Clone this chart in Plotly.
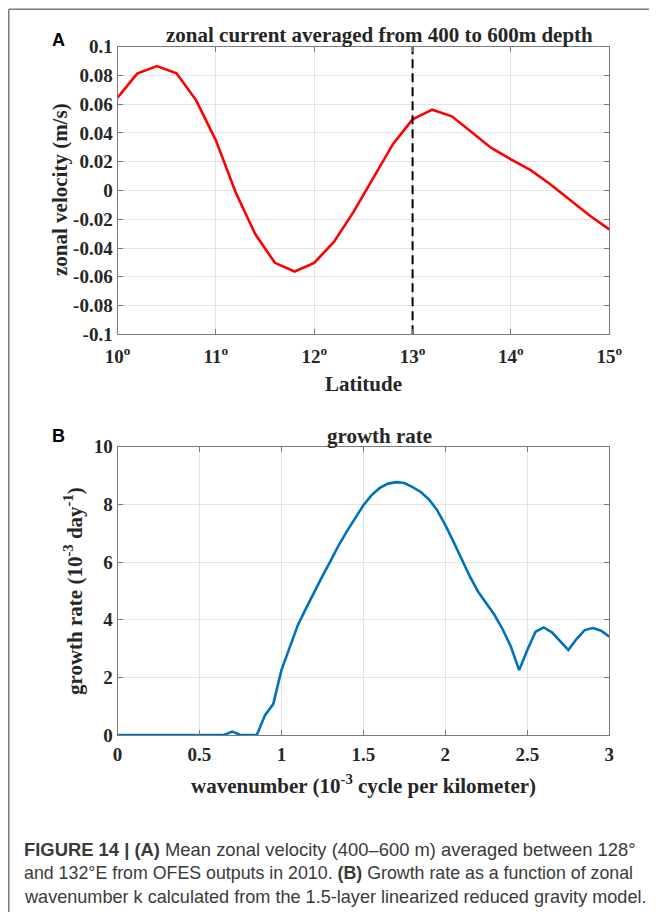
import plotly.graph_objects as go

# ---------------- data ----------------
lat = [10.0, 10.2, 10.4, 10.6, 10.8, 11.0, 11.2, 11.4, 11.6, 11.8, 12.0,
       12.2, 12.4, 12.6, 12.8, 13.0, 13.2, 13.4, 13.6, 13.8, 14.0,
       14.2, 14.4, 14.6, 14.8, 15.0]
zonal_u = [0.0646, 0.0813, 0.0865, 0.0815, 0.0627, 0.0349, -0.001, -0.0303,
           -0.0503, -0.0563, -0.0503, -0.0357, -0.0149, 0.0083, 0.0322,
           0.0495, 0.0562, 0.0516, 0.0407, 0.0296, 0.0217, 0.0141, 0.0044,
           -0.0067, -0.0174, -0.0271]
dash_lat = 13.0

wavenumber = [0.0, 0.05, 0.1, 0.15, 0.2, 0.25, 0.3, 0.35, 0.4, 0.45, 0.5,
              0.55, 0.6, 0.65, 0.7, 0.75, 0.8, 0.85, 0.9, 0.95, 1.0,
              1.05, 1.1, 1.15, 1.2, 1.25, 1.3, 1.35, 1.4, 1.45, 1.5,
              1.55, 1.6, 1.65, 1.7, 1.75, 1.8, 1.85, 1.9, 1.95, 2.0,
              2.05, 2.1, 2.15, 2.2, 2.25, 2.3, 2.35, 2.4, 2.45, 2.5,
              2.55, 2.6, 2.65, 2.7, 2.75, 2.8, 2.85, 2.9, 2.95, 3.0]
growth = [0, 0, 0, 0, 0, 0, 0, 0, 0, 0, 0,
          0, 0, 0, 0.12, 0, 0, 0, 0.69, 1.07, 2.25,
          3.06, 3.81, 4.39, 4.97, 5.51, 6.04, 6.59, 7.07, 7.51, 7.97,
          8.32, 8.57, 8.72, 8.77, 8.74, 8.6, 8.43, 8.17, 7.8, 7.28,
          6.7, 6.12, 5.49, 4.97, 4.56, 4.16, 3.66, 3.06, 2.25, 2.95,
          3.58, 3.73, 3.56, 3.26, 2.95, 3.33, 3.64, 3.71, 3.62, 3.41]

a_xticks = [10, 11, 12, 13, 14, 15]
a_xticktext = ["10<sup>o</sup>", "11<sup>o</sup>", "12<sup>o</sup>",
               "13<sup>o</sup>", "14<sup>o</sup>", "15<sup>o</sup>"]
a_yticks = [0.1, 0.08, 0.06, 0.04, 0.02, 0, -0.02, -0.04, -0.06, -0.08, -0.1]
a_yticktext = ["0.1", "0.08", "0.06", "0.04", "0.02", "0", "-0.02", "-0.04",
               "-0.06", "-0.08", "-0.1"]
b_xticks = [0, 0.5, 1, 1.5, 2, 2.5, 3]
b_xticktext = ["0", "0.5", "1", "1.5", "2", "2.5", "3"]
b_yticks = [0, 2, 4, 6, 8, 10]
b_yticktext = ["0", "2", "4", "6", "8", "10"]

# ---------------- figure ----------------
# the page body has an 8px margin, so the figure starts at (8, 8)
OFF = 8
W, H = 657 - OFF, 912 - OFF
def px(x):
    return (x - OFF) / W
def py(y):
    return 1 - (y - OFF) / H

SERIF = "Liberation Serif"
SANS = "Liberation Sans"
FRAME = "#7a7a7a"
GRID = "#e3e3e3"

fig = go.Figure()
fig.add_trace(go.Scatter(x=lat, y=zonal_u, mode="lines",
                         line=dict(color="#ff0000", width=2.6),
                         xaxis="x", yaxis="y", showlegend=False))
fig.add_trace(go.Scatter(x=[dash_lat, dash_lat], y=[a_yticks[-1], a_yticks[0]],
                         mode="lines",
                         line=dict(color="black", width=2, dash="9px,5px"),
                         xaxis="x", yaxis="y", showlegend=False))
fig.add_trace(go.Scatter(x=wavenumber, y=growth, mode="lines",
                         line=dict(color="#0072bd", width=2.6),
                         xaxis="x2", yaxis="y2", showlegend=False))

tickfont = dict(family=SERIF, size=19, color="#262626", weight="bold")
common = dict(showline=True, linecolor=FRAME, linewidth=1, mirror="ticks",
              ticks="inside", ticklen=5, tickcolor=FRAME, showgrid=True,
              gridcolor=GRID, gridwidth=1, zeroline=False, automargin=False,
              tickfont=tickfont)

xdom = [px(117.5), px(609.3)]
fig.update_layout(
    width=W, height=H,
    margin=dict(l=0, r=0, t=0, b=0),
    paper_bgcolor="white", plot_bgcolor="white",
    xaxis=dict(domain=xdom, range=[10, 15], tickvals=a_xticks,
               ticktext=a_xticktext, anchor="y", ticklabelstandoff=5, **common),
    yaxis=dict(domain=[py(334.3), py(46.7)], range=[-0.1, 0.1],
               tickvals=a_yticks, ticktext=a_yticktext, anchor="x", **common),
    xaxis2=dict(domain=xdom, range=[0, 3], tickvals=b_xticks,
                ticktext=b_xticktext, anchor="y2", ticklabelstandoff=2, **common),
    yaxis2=dict(domain=[py(735), py(446.7)], range=[0, 10],
                tickvals=b_yticks, ticktext=b_yticktext, anchor="x2", **common),
)

title_font = dict(family=SERIF, size=21, color="#262626", weight="bold")
ann = []
def add(text, x, y, font, xanchor="center", yanchor="middle", textangle=0):
    ann.append(dict(text=text, x=px(x), y=py(y), xref="paper", yref="paper",
                    showarrow=False, font=font, xanchor=xanchor,
                    yanchor=yanchor, textangle=textangle))

add("zonal current averaged from 400 to 600m depth", 380, 35, title_font)
add("Latitude", 363, 384, title_font)
add("zonal velocity (m/s)", 60, 190, title_font, textangle=-90)
add("growth rate", 380, 436, title_font)
add("wavenumber (10<sup>-3</sup> cycle per kilometer)", 363, 784, title_font)
add("growth rate (10<sup>-3</sup> day<sup>-1</sup>)", 73, 591, title_font, textangle=-90)

label_font = dict(family=SANS, size=18, color="black", weight="bold")
add("A", 58, 40, label_font)
add("B", 58, 436, label_font)

def cap_font(size):
    return dict(family=SANS, size=size, color="#3a3a3a")
add("<b>FIGURE 14 | (A)</b> Mean zonal velocity (400–600 m) averaged between 128°",
    22, 849, cap_font(18.4), xanchor="left")
add("and 132°E from OFES outputs in 2010. <b>(B)</b> Growth rate as a function of zonal",
    22, 873, cap_font(17.8), xanchor="left")
add("wavenumber k calculated from the 1.5-layer linearized reduced gravity model.",
    22, 897, cap_font(18.1), xanchor="left")

fig.update_layout(annotations=ann)

fig.update_layout(shapes=[
    dict(type="line", xref="paper", yref="paper", x0=px(8.75), x1=1.0,
         y0=py(9.25), y1=py(9.25), line=dict(color=FRAME, width=1.5)),
    dict(type="line", xref="paper", yref="paper", x0=px(8.75), x1=px(8.75),
         y0=py(9.25), y1=0.0, line=dict(color=FRAME, width=1.5)),
])

fig.write_html("out.html")
